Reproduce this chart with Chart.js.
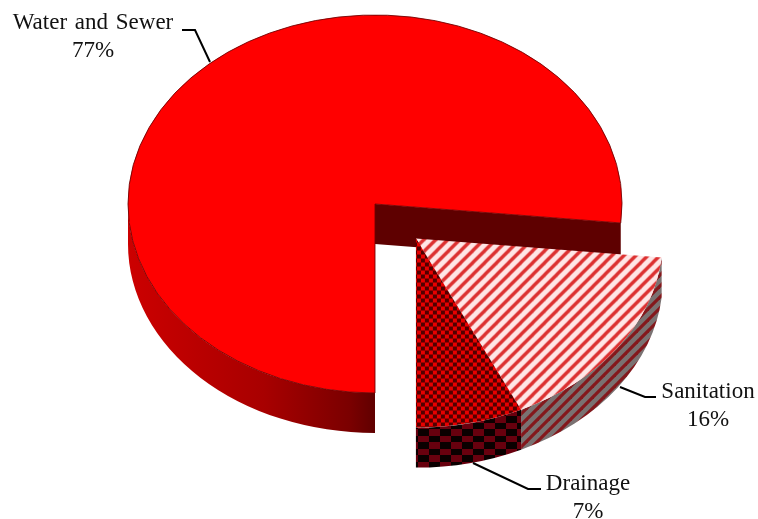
<!DOCTYPE html>
<html>
<head>
<meta charset="utf-8">
<style>
  html, body { margin: 0; padding: 0; background: #fff; }
  #wrap { width: 758px; height: 519px; }
</style>
<script src="https://cdn.jsdelivr.net/npm/chart.js@4/dist/chart.umd.min.js"></script>
</head>
<body>
<div id="wrap"><canvas id="chart" width="758" height="519"></canvas></div>
<script>
const categories = ["Water and Sewer", "Sanitation", "Drainage"];
// slice sizes, the printed labels are rounded
const shares = [76.6, 16.4, 7.0];
const shareLabels = ["77%", "16%", "7%"];

// 3D look
const RADIUS = 247;
const TILT = 189 / 247;
const DEPTH = 40;
const EXPLODE = 61;

// where the text and leader lines go, same order as categories
const labelCenters = [[93, 23], [708, 392], [588, 484]];
const leaders = [
  [[182, 30], [195, 30], [210, 62]],
  [[620, 387], [645, 397], [656, 397]],
  [[473, 463], [528, 489], [541, 489]],
];

function makePattern(w, h, paint, squash) {
  const c = document.createElement("canvas");
  c.width = w;
  c.height = h;
  paint(c.getContext("2d"));
  const p = c.getContext("2d").createPattern(c, "repeat");
  if (squash) p.setTransform(new DOMMatrix().scale(1, 1 / TILT));
  return p;
}

// diagonal stripes going up to the right, w is the horizontal period
function stripes(w, back, line, lineWidth) {
  return (g) => {
    g.fillStyle = back;
    g.fillRect(0, 0, w, w);
    g.strokeStyle = line;
    g.lineWidth = lineWidth;
    [-w, 0, w].forEach((d) => {
      // run past the tile corners so the repeat has no seams
      g.beginPath();
      g.moveTo(d - 4, w + 4);
      g.lineTo(d + w + 4, -4);
      g.stroke();
    });
  };
}

const sanitationTop = makePattern(12, 12, stripes(12, "#ffe6e6", "#dc3030", 3.4), true);
const sanitationWall = makePattern(11, 11, stripes(11, "#7a7272", "#84181c", 3.2), false);

const drainageTop = makePattern(8, 8, (g) => {
  g.fillStyle = "#500000";
  g.fillRect(0, 0, 8, 8);
  g.fillStyle = "#e80000";
  g.fillRect(0, 0, 4, 4);
  g.fillRect(4, 4, 4, 4);
}, true);

const drainageWall = makePattern(22, 13, (g) => {
  g.fillStyle = "#68000e";
  g.fillRect(0, 0, 22, 13);
  g.fillStyle = "#0a0000";
  g.fillRect(0, 0, 11, 7);
  g.fillRect(11, 7, 11, 6);
}, false);

function wallPath(ctx, cx, cy, r, a1, a2) {
  ctx.beginPath();
  ctx.ellipse(cx, cy, r, r * TILT, 0, a1, a2);
  ctx.ellipse(cx, cy + DEPTH, r, r * TILT, 0, a2, a1, true);
  ctx.closePath();
}

const pie3d = {
  id: "pie3d",
  beforeDatasetsDraw(chart) {
    const ctx = chart.ctx;
    const arcs = chart.getDatasetMeta(0).data;
    const main = arcs[0];
    const cx = main.x;
    const cy = main.y;
    const r = main.outerRadius;

    // the two small slices move out together along their shared middle
    const mid = (arcs[1].startAngle + arcs[2].endAngle) / 2;
    const ox = cx + Math.cos(mid) * EXPLODE;
    const oy = cy + Math.sin(mid) * EXPLODE * TILT;

    const face = (arc, x, y) => {
      ctx.save();
      ctx.translate(x, y);
      ctx.scale(1, TILT);
      ctx.translate(-arc.x, -arc.y);
      arc.draw(ctx);
      ctx.restore();
    };

    // water and sewer: outer wall, then the cut wall seen in the notch
    const shade = ctx.createLinearGradient(cx - r, 0, cx, 0);
    shade.addColorStop(0, "#cc0000");
    shade.addColorStop(0.55, "#a80000");
    shade.addColorStop(0.9, "#7a0000");
    shade.addColorStop(1, "#600000");
    ctx.fillStyle = shade;
    wallPath(ctx, cx, cy, r, main.startAngle, Math.PI);
    ctx.fill();

    const ex = cx + Math.cos(main.endAngle) * r;
    const ey = cy + Math.sin(main.endAngle) * r * TILT;
    ctx.fillStyle = "#5e0000";
    ctx.beginPath();
    ctx.moveTo(cx, cy);
    ctx.lineTo(ex, ey);
    ctx.lineTo(ex, ey + DEPTH);
    ctx.lineTo(cx, cy + DEPTH);
    ctx.closePath();
    ctx.fill();
    face(main, cx, cy);

    // exploded group
    ctx.fillStyle = sanitationWall;
    wallPath(ctx, ox, oy, r, arcs[1].startAngle, arcs[1].endAngle);
    ctx.fill();
    ctx.fillStyle = drainageWall;
    wallPath(ctx, ox, oy, r, arcs[2].startAngle, arcs[2].endAngle);
    ctx.fill();
    face(arcs[1], ox, oy);
    face(arcs[2], ox, oy);

    return false;
  },
  afterDraw(chart) {
    const ctx = chart.ctx;
    ctx.save();
    ctx.strokeStyle = "#000";
    ctx.lineWidth = 2;
    leaders.forEach((pts) => {
      ctx.beginPath();
      pts.forEach((p, i) => (i ? ctx.lineTo(p[0], p[1]) : ctx.moveTo(p[0], p[1])));
      ctx.stroke();
    });
    ctx.fillStyle = "#111";
    ctx.font = '23px "Liberation Serif"';
    ctx.wordSpacing = "2px";
    ctx.textAlign = "center";
    ctx.textBaseline = "middle";
    categories.forEach((name, i) => {
      ctx.fillText(name, labelCenters[i][0], labelCenters[i][1]);
      ctx.fillText(shareLabels[i], labelCenters[i][0], labelCenters[i][1] + 28);
    });
    ctx.restore();
  },
};

new Chart(document.getElementById("chart"), {
  type: "pie",
  data: {
    labels: categories,
    datasets: [
      {
        data: shares,
        backgroundColor: ["#ff0000", sanitationTop, drainageTop],
        borderColor: ["#700000", "rgba(0,0,0,0)", "rgba(0,0,0,0)"],
        borderWidth: [1, 0, 0],
        borderAlign: "center",
        radius: RADIUS,
      },
    ],
  },
  options: {
    responsive: false,
    animation: false,
    rotation: 180,
    layout: { padding: { right: 8, bottom: 111 } },
    plugins: { legend: { display: false }, tooltip: { enabled: false } },
  },
  plugins: [pie3d],
});
</script>
</body>
</html>
